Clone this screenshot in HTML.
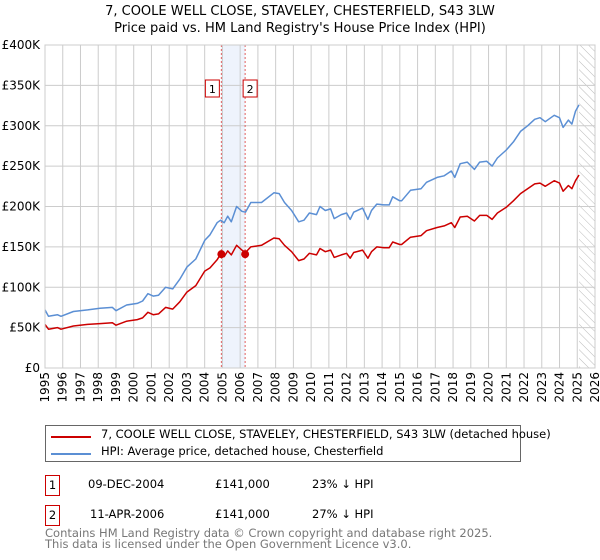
<!DOCTYPE html>
<html><head><meta charset="utf-8"><style>
body{margin:0;background:#fff;font-family:"DejaVu Sans","Liberation Sans",sans-serif;}
#wrap{position:relative;width:600px;height:560px;overflow:hidden;}
.t{position:absolute;white-space:nowrap;font-size:12px;color:#000;}
</style></head><body>
<div id="wrap">
<div class="t" style="left:0;width:600px;text-align:center;top:4px;font-size:13px">7, COOLE WELL CLOSE, STAVELEY, CHESTERFIELD, S43 3LW</div>
<div class="t" style="left:0;width:600px;text-align:center;top:21px;font-size:13px">Price paid vs. HM Land Registry's House Price Index (HPI)</div>
<svg id="chart" width="600" height="420" style="position:absolute;left:0;top:0"></svg>
<div style="position:absolute;left:45px;top:425px;width:474px;height:35px;border:1px solid #666;">
 <div style="position:absolute;left:5px;top:3px;width:40px;height:2px;background:#cc0000;margin-top:7px"></div>
 <div class="t" style="left:55px;top:1px;font-size:11.5px">7, COOLE WELL CLOSE, STAVELEY, CHESTERFIELD, S43 3LW (detached house)</div>
 <div style="position:absolute;left:5px;top:20px;width:40px;height:2px;background:#5b8fd4;margin-top:7px"></div>
 <div class="t" style="left:55px;top:18px;font-size:11.5px">HPI: Average price, detached house, Chesterfield</div>
</div>
<div style="position:absolute;left:45px;top:475px;width:13px;height:19px;border:1px solid #cc0000;font-size:11.5px;text-align:center;line-height:19px">1</div>
<div class="t" style="left:88px;top:477px;font-size:11.5px">09-DEC-2004</div>
<div class="t" style="left:215px;top:477px;font-size:11.5px">£141,000</div>
<div class="t" style="left:312px;top:477px;font-size:11.5px">23% ↓ HPI</div>
<div style="position:absolute;left:45px;top:505px;width:13px;height:19px;border:1px solid #cc0000;font-size:11.5px;text-align:center;line-height:19px">2</div>
<div class="t" style="left:90px;top:507px;font-size:11.5px">11-APR-2006</div>
<div class="t" style="left:215px;top:507px;font-size:11.5px">£141,000</div>
<div class="t" style="left:312px;top:507px;font-size:11.5px">27% ↓ HPI</div>
<div class="t" style="left:45px;top:528px;font-size:11.5px;color:#777;line-height:11px">Contains HM Land Registry data © Crown copyright and database right 2025.<br>This data is licensed under the Open Government Licence v3.0.</div>
</div>
<script>
const hpiYears=[1995.0,1995.2,1995.7,1995.9,1996.6,1997.4,1998.1,1998.8,1999.0,1999.6,2000.2,2000.5,2000.8,2001.1,2001.4,2001.8,2002.2,2002.6,2003.0,2003.5,2004.0,2004.3,2004.7,2004.9,2005.1,2005.3,2005.5,2005.8,2006.1,2006.3,2006.6,2006.9,2007.2,2007.9,2008.2,2008.5,2008.9,2009.3,2009.6,2009.9,2010.3,2010.5,2010.8,2011.1,2011.3,2011.7,2012.0,2012.2,2012.4,2012.9,2013.2,2013.4,2013.7,2014.1,2014.4,2014.6,2015.0,2015.1,2015.6,2016.2,2016.5,2017.1,2017.5,2017.9,2018.1,2018.4,2018.8,2019.2,2019.5,2019.9,2020.2,2020.5,2021.0,2021.4,2021.8,2022.2,2022.6,2022.9,2023.2,2023.7,2024.0,2024.2,2024.5,2024.7,2024.9,2025.1];
const hpiValues=[72,64,66,64,70,72,74,75,71,78,80,83,92,89,90,100,98,110,125,135,158,165,180,183,180,188,181,200,194,193,205,205,205,217,216,205,195,181,183,192,190,200,195,197,185,190,192,184,193,198,184,195,203,202,202,212,207,207,220,222,230,236,238,244,236,253,255,246,255,256,250,260,270,280,293,300,308,310,305,313,310,298,307,302,318,326];
const propValues=[54,48,50,48,52,54,55,56,53,58,60,62,69,66,67,75,73,82,94,102,120,124,134,141,138,145,140,152,146,143,150,151,152,161,160,152,144,133,135,142,140,148,144,146,137,140,142,136,143,146,136,144,150,149,149,156,153,153,162,164,170,174,176,180,174,187,188,182,189,189,184,192,199,207,216,222,228,229,225,232,229,219,226,222,232,239];
const saleYears=[2004.94,2006.28];
const salePrices=[141,141];
const yTicks=[0,50,100,150,200,250,300,350,400];
const yTickLabels=["£0","£50K","£100K","£150K","£200K","£250K","£300K","£350K","£400K"];
const xTicks=[1995,1996,1997,1998,1999,2000,2001,2002,2003,2004,2005,2006,2007,2008,2009,2010,2011,2012,2013,2014,2015,2016,2017,2018,2019,2020,2021,2022,2023,2024,2025,2026];

const svg=document.getElementById('chart');
const NS='http://www.w3.org/2000/svg';
const L=45,R=595,T=45,B=368;
function xs(y){return L+(y-1995)/(2026-1995)*(R-L);}
function ys(v){return B-v/400*(B-T);}
function mk(tag,attrs){const e=document.createElementNS(NS,tag);for(const k in attrs)e.setAttribute(k,attrs[k]);svg.appendChild(e);return e;}

const defs=mk('defs',{});
defs.innerHTML='<pattern id="hatch" width="6" height="6" patternUnits="userSpaceOnUse" patternTransform="rotate(-45)"><line x1="0" y1="0" x2="0" y2="6" stroke="#bbb" stroke-width="1"/></pattern>';

const band=mk('rect',{x:xs(saleYears[0]),y:T,width:xs(saleYears[1])-xs(saleYears[0]),height:B-T,fill:'#eef3fc'});


const hatch=mk('rect',{x:xs(2025.1),y:T,width:R-xs(2025.1),height:B-T,fill:'url(#hatch)'});



yTicks.forEach((v,i)=>{
 const g=mk('line',{x1:L,x2:R,y1:ys(v),y2:ys(v),stroke:'#ccc','stroke-width':1});
 
 
 const t=mk('text',{x:L-5,y:ys(v)+4,'text-anchor':'end','font-size':12,'font-family':'DejaVu Sans, Liberation Sans, sans-serif'});
 t.textContent=yTickLabels[i];
 
 
});
xTicks.forEach(yr=>{
 const g=mk('line',{x1:xs(yr),x2:xs(yr),y1:T,y2:B,stroke:'#ccc','stroke-width':1});
 
 
 const t=mk('text',{x:0,y:0,'text-anchor':'end','font-size':12,'font-family':'DejaVu Sans, Liberation Sans, sans-serif',transform:`translate(${xs(yr)+4},${B+4}) rotate(-90)`});
 t.textContent=yr;
 
 
});
saleYears.forEach((yr,i)=>{
 const l=mk('line',{x1:xs(yr),x2:xs(yr),y1:T,y2:B,stroke:'#e06060','stroke-width':1,'stroke-dasharray':'2,2'});
 
 
 const bx=xs(yr)+(i==0?-9:5)-7;
 const r=mk('rect',{x:bx,y:80,width:14,height:17,fill:'#fff',stroke:'#cc0000','stroke-width':1});
 
 
 const t=mk('text',{x:bx+7,y:93,'text-anchor':'middle','font-size':11,'font-family':'DejaVu Sans, sans-serif'});
 t.textContent=String(i+1);
 
 
});
function path(vals,color,name){
 const d=vals.map((v,i)=>(i?'L':'M')+xs(hpiYears[i]).toFixed(1)+','+ys(v).toFixed(1)).join('');
 const p=mk('path',{d:d,fill:'none',stroke:color,'stroke-width':1.5,'stroke-linejoin':'round'});
 
 
}
path(hpiValues,'#5b8fd4','hpi-line');
path(propValues,'#cc0000','property-line');
saleYears.forEach((yr,i)=>{
 const c=mk('circle',{cx:xs(yr),cy:ys(salePrices[i]),r:4,fill:'#cc0000'});
 
 
});
const frame=mk('rect',{x:L,y:T,width:R-L,height:B-T,fill:'none',stroke:'#ccc'});


</script>
</body></html>
